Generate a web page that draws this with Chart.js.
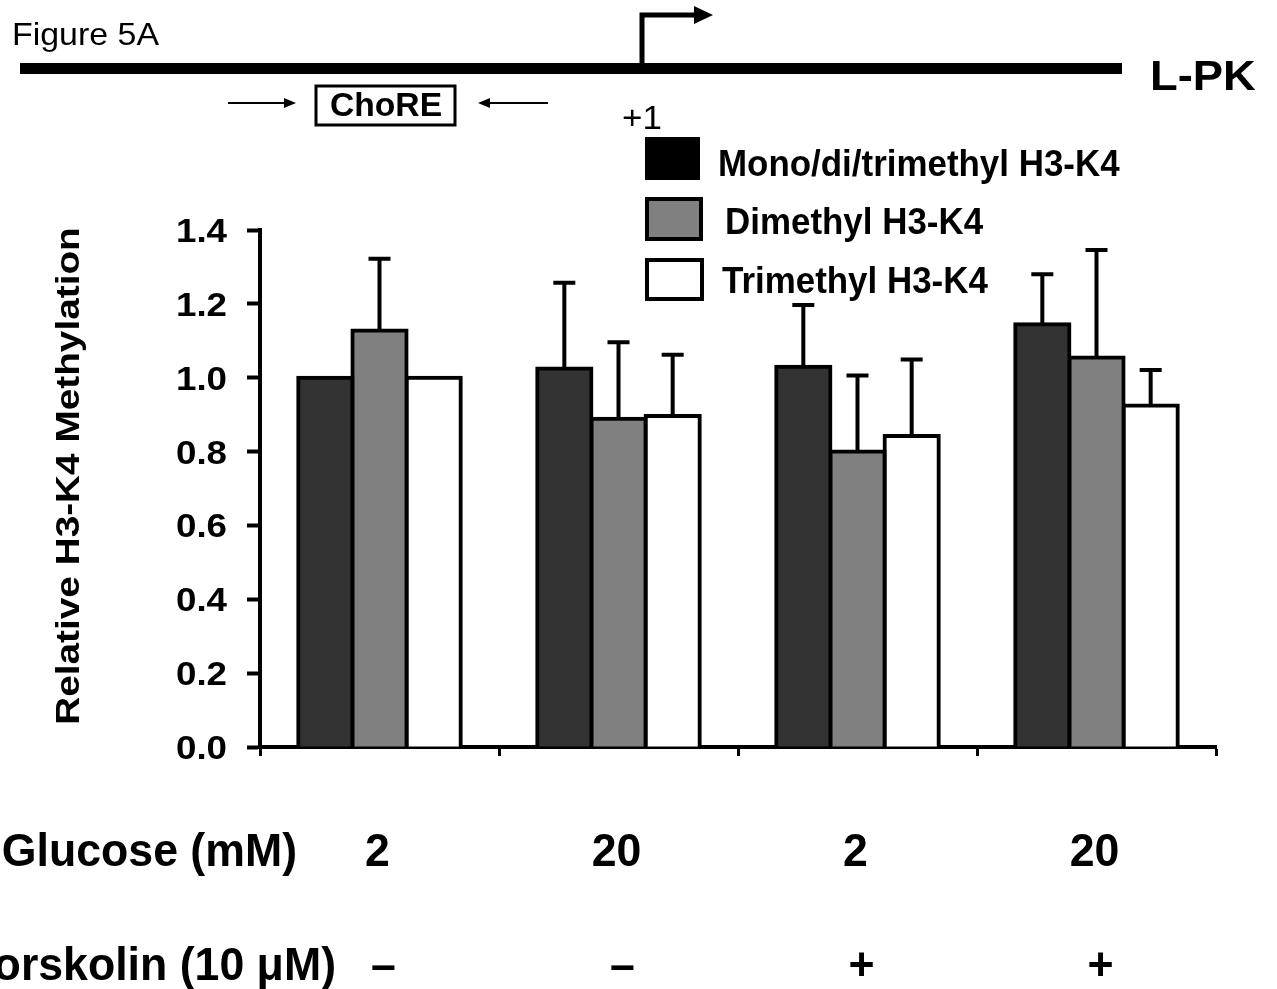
<!DOCTYPE html>
<html>
<head>
<meta charset="utf-8">
<title>Figure 5A</title>
<script src="https://cdn.jsdelivr.net/npm/chart.js@4.4.1/dist/chart.umd.min.js"></script>
<style>
  html, body { margin: 0; padding: 0; background: #fff; }
  canvas { display: block; }
</style>
</head>
<body>
<canvas id="chart" width="1277" height="989"></canvas>
<script>
// Data
const categories = ['Glc 2, Fsk -', 'Glc 20, Fsk -', 'Glc 2, Fsk +', 'Glc 20, Fsk +'];
const glucoseLabels = ['2', '20', '2', '20'];
const forskolinLabels = ['–', '–', '+', '+'];
const seriesNames = ['Mono/di/trimethyl H3-K4', 'Dimethyl H3-K4', 'Trimethyl H3-K4'];

const monoDiTri = [1.00, 1.025, 1.03, 1.145];
const monoDiTriErr = [0, 0.232, 0.167, 0.135];
const dimethyl = [1.128, 0.889, 0.80, 1.055];
const dimethylErr = [0.194, 0.207, 0.206, 0.291];
const trimethyl = [1.00, 0.896, 0.842, 0.925];
const trimethylErr = [0, 0.166, 0.207, 0.096];

const yMin = 0;
const yMax = 1.4;
const yStep = 0.2;

const FONT = "'Liberation Sans', Arial, Helvetica, sans-serif";
const barColors = ['#333333', '#808080', '#ffffff'];
const legendColors = ['#000000', '#808080', '#ffffff'];
const errors = [monoDiTriErr, dimethylErr, trimethylErr];

// draw text with a horizontal stretch
function drawText(ctx, text, x, y, font, sx, align) {
    ctx.save();
    ctx.font = font;
    ctx.fillStyle = '#000';
    ctx.textAlign = align || 'left';
    ctx.textBaseline = 'alphabetic';
    ctx.translate(x, y);
    ctx.scale(sx, 1);
    ctx.fillText(text, 0, 0);
    ctx.restore();
}

const errorBars = {
    id: 'errorBars',
    afterDatasetsDraw(chart) {
        const ctx = chart.ctx;
        const yScale = chart.scales.y;
        ctx.save();
        ctx.strokeStyle = '#000';
        ctx.lineWidth = 4;
        ctx.lineCap = 'butt';
        chart.data.datasets.forEach((ds, i) => {
            const meta = chart.getDatasetMeta(i);
            meta.data.forEach((bar, j) => {
                const err = errors[i][j];
                if (!err) return;
                const top = yScale.getPixelForValue(ds.data[j] + err);
                ctx.beginPath();
                ctx.moveTo(bar.x, bar.y);
                ctx.lineTo(bar.x, top);
                ctx.moveTo(bar.x - 11, top);
                ctx.lineTo(bar.x + 11, top);
                ctx.stroke();
            });
        });
        ctx.restore();
    }
};

const decorations = {
    id: 'decorations',
    afterDraw(chart) {
        const ctx = chart.ctx;
        const xScale = chart.scales.x;
        const yScale = chart.scales.y;

        // gene diagram at the top
        drawText(ctx, 'Figure 5A', 12, 45, '32px ' + FONT, 1.06);
        ctx.fillStyle = '#000';
        ctx.fillRect(20, 63, 1102, 11);
        ctx.save();
        ctx.strokeStyle = '#000';
        ctx.lineWidth = 5;
        ctx.beginPath();
        ctx.moveTo(642, 68);
        ctx.lineTo(642, 15);
        ctx.lineTo(697, 15);
        ctx.stroke();
        ctx.beginPath();
        ctx.moveTo(694, 6);
        ctx.lineTo(713, 15);
        ctx.lineTo(694, 24);
        ctx.closePath();
        ctx.fill();

        ctx.lineWidth = 3;
        ctx.strokeRect(316, 86, 139, 39);
        ctx.lineWidth = 2;
        ctx.beginPath();
        ctx.moveTo(228, 103);
        ctx.lineTo(288, 103);
        ctx.moveTo(548, 103);
        ctx.lineTo(486, 103);
        ctx.stroke();
        ctx.beginPath();
        ctx.moveTo(284, 98);
        ctx.lineTo(296, 103);
        ctx.lineTo(284, 108);
        ctx.closePath();
        ctx.moveTo(490, 98);
        ctx.lineTo(478, 103);
        ctx.lineTo(490, 108);
        ctx.closePath();
        ctx.fill();
        ctx.restore();
        drawText(ctx, 'ChoRE', 386, 116, 'bold 33px ' + FONT, 1.02, 'center');
        drawText(ctx, '+1', 622, 129, '33px ' + FONT, 1.06);
        drawText(ctx, 'L-PK', 1150, 90, 'bold 42px ' + FONT, 1.08);

        // legend
        const boxes = [[645, 137, 55, 43], [645, 197, 58, 44], [645, 258, 59, 43]];
        const textPos = [[718, 176], [725, 234], [722, 293]];
        seriesNames.forEach((name, i) => {
            const b = boxes[i];
            ctx.save();
            ctx.fillStyle = legendColors[i];
            ctx.fillRect(b[0], b[1], b[2], b[3]);
            ctx.strokeStyle = '#000';
            ctx.lineWidth = 4;
            ctx.strokeRect(b[0] + 2, b[1] + 2, b[2] - 4, b[3] - 4);
            ctx.restore();
            drawText(ctx, name, textPos[i][0], textPos[i][1], 'bold 36px ' + FONT, 0.97);
        });

        // y tick labels and title
        yScale.ticks.forEach(t => {
            const y = yScale.getPixelForValue(t.value);
            drawText(ctx, t.value.toFixed(1), 227, y + 12, 'bold 34px ' + FONT, 1.08, 'right');
        });
        ctx.save();
        ctx.translate(79, 476);
        ctx.rotate(-Math.PI / 2);
        drawText(ctx, 'Relative H3-K4 Methylation', 0, 0, 'bold 34px ' + FONT, 1.14, 'center');
        ctx.restore();

        // condition rows under the axis
        drawText(ctx, 'Glucose (mM)', 297, 866, 'bold 47px ' + FONT, 0.95, 'right');
        drawText(ctx, 'Forskolin (10 μM)', 336, 980, 'bold 47px ' + FONT, 0.95, 'right');
        categories.forEach((c, i) => {
            const x = xScale.getPixelForValue(i);
            drawText(ctx, glucoseLabels[i], x - 2, 866, 'bold 47px ' + FONT, 0.95, 'center');
            drawText(ctx, forskolinLabels[i], x + 4, 980, 'bold 47px ' + FONT, 0.95, 'center');
        });
    }
};

new Chart(document.getElementById('chart'), {
    type: 'bar',
    data: {
        labels: categories,
        datasets: [
            { label: seriesNames[0], data: monoDiTri, backgroundColor: barColors[0] },
            { label: seriesNames[1], data: dimethyl, backgroundColor: barColors[1] },
            { label: seriesNames[2], data: trimethyl, backgroundColor: barColors[2] }
        ]
    },
    options: {
        responsive: false,
        animation: false,
        devicePixelRatio: 1,
        layout: { padding: { top: 230, right: 61, left: 0, bottom: 0 } },
        datasets: {
            bar: {
                borderColor: '#000',
                borderWidth: 4,
                inflateAmount: 2,
                categoryPercentage: 0.68,
                barPercentage: 1.0
            }
        },
        plugins: {
            legend: { display: false },
            tooltip: { enabled: false }
        },
        scales: {
            x: {
                grid: {
                    offset: true,
                    drawOnChartArea: false,
                    drawTicks: true,
                    tickLength: 9,
                    tickWidth: 3,
                    color: '#000'
                },
                border: { display: true, width: 4, color: '#000' },
                ticks: { display: false },
                afterFit: s => { s.height = 242; }
            },
            y: {
                min: yMin,
                max: yMax,
                ticks: { display: false, stepSize: yStep },
                grid: {
                    drawOnChartArea: false,
                    drawTicks: true,
                    tickLength: 13,
                    tickWidth: 4,
                    color: '#000'
                },
                border: { display: true, width: 4, color: '#000' },
                afterFit: s => { s.width = 260; }
            }
        }
    },
    plugins: [errorBars, decorations]
});
</script>
</body>
</html>
